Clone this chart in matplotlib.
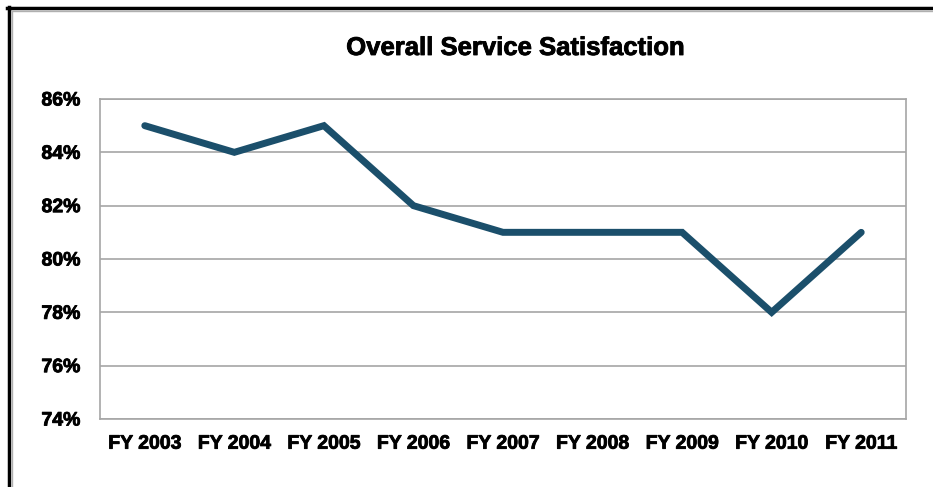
import matplotlib.pyplot as plt
import matplotlib.patheffects as pe
from matplotlib.lines import Line2D
from matplotlib.ticker import FuncFormatter

years = ["FY 2003", "FY 2004", "FY 2005", "FY 2006", "FY 2007",
         "FY 2008", "FY 2009", "FY 2010", "FY 2011"]
satisfaction = [85, 84, 85, 82, 81, 81, 81, 78, 81]

plt.rcParams['font.family'] = ['Liberation Sans', 'DejaVu Sans']

W, H = 933, 487
fig = plt.figure(figsize=(W / 100, H / 100), dpi=100)
ax = fig.add_axes([100 / W, 1 - 419 / H, 806 / W, 320 / H])

x = range(len(years))
ax.plot(x, satisfaction, color="#1b4f6b", lw=5, solid_capstyle="round",
        solid_joinstyle="miter")

ax.set_xlim(-0.5, len(years) - 0.5)
ax.set_ylim(74, 86)
ax.set_yticks(range(74, 87, 2))
ax.yaxis.set_major_formatter(FuncFormatter(lambda v, p: f"{v:.0f}%"))
ax.set_xticks(list(x))
ax.set_xticklabels(years)
ax.tick_params(length=0, labelsize=14, pad=12)
ax.tick_params(axis="y", pad=14)
heavy = [pe.withStroke(linewidth=0.6, foreground="black")]
for lab in ax.get_xticklabels() + ax.get_yticklabels():
    lab.set_fontweight("bold")
    lab.set_path_effects(heavy)

ax.grid(axis="y", color="#a6a6a6", lw=1.2)
ax.set_axisbelow(True)
for s in ax.spines.values():
    s.set_color("#a6a6a6")
    s.set_linewidth(1.2)

fig.text(516 / W, 1 - 48 / H, "Overall Service Satisfaction",
         ha="center", va="center", fontsize=18.5, fontweight="bold",
         path_effects=heavy)

# outer frame: black rule plus a thin gray inner rule
fig.add_artist(Line2D([9 / W, 9 / W], [0, 1 - 7 / H], color="black", lw=2.5,
                      transform=fig.transFigure))
fig.add_artist(Line2D([7.5 / W, 1], [1 - 8 / H, 1 - 8 / H], color="black", lw=2.5,
                      transform=fig.transFigure))
fig.add_artist(Line2D([11.5 / W, 11.5 / W], [0, 1 - 10.5 / H], color="#b0b0b0", lw=1,
                      transform=fig.transFigure))
fig.add_artist(Line2D([11.5 / W, 1], [1 - 10.5 / H, 1 - 10.5 / H], color="#b0b0b0", lw=1,
                      transform=fig.transFigure))

fig.savefig("out.png", dpi=100)
